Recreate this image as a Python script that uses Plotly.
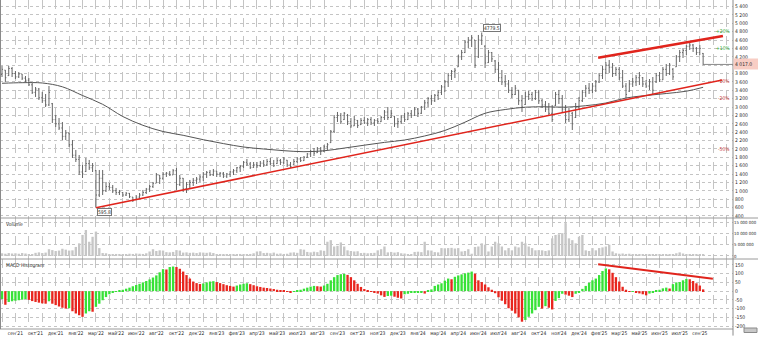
import plotly.graph_objects as go
from plotly.subplots import make_subplots

# ---------------- data ----------------
bar_index = list(range(210))

open_p = [3780, 3880, 3750, 3920, 3800, 3720, 3790, 3690, 3640, 3530,
          3350, 3430, 3220, 3150, 3050, 3080, 2700, 2600, 2500, 2300,
          2380, 2100, 1850, 1750, 1450, 1460, 1650, 1550, 1480, 900,
          1300, 1000, 1100, 1080, 1000, 960, 960, 900, 940, 850,
          790, 850, 900, 960, 1040, 1100, 1180, 1370, 1300, 1400,
          1420, 1380, 1480, 1150, 1300, 1050, 1150, 1200, 1250, 1280,
          1330, 1400, 1440, 1380, 1470, 1400, 1420, 1350, 1400, 1450,
          1480, 1550, 1580, 1680, 1640, 1560, 1620, 1600, 1660, 1620,
          1700, 1650, 1650, 1720, 1680, 1730, 1620, 1620, 1700, 1760,
          1720, 1800, 1880, 1940, 1910, 2000, 1950, 2050, 2150, 2420,
          2750, 2800, 2700, 2800, 2650, 2550, 2680, 2580, 2680, 2620,
          2700, 2620, 2680, 2650, 2750, 2880, 2750, 2780, 2600, 2650,
          2760, 2700, 2840, 2800, 2950, 2850, 3000, 3100, 3200, 3150,
          3280, 3350, 3480, 3600, 3750, 3850, 3960, 4200, 4300, 4550,
          4600, 4600, 4200, 4600, 4450, 4060, 4300, 4100, 3900, 3700,
          3600, 3550, 3400, 3300, 3400, 3150, 3060, 3250, 3300, 3200,
          3350, 3150, 3050, 2950, 2850, 3040, 3300, 3200, 2950, 2700,
          2850, 2750, 3000, 3150, 3350, 3450, 3400, 3500, 3600, 3750,
          3900, 4000, 3950, 3800, 3900, 3700, 3500, 3380, 3550, 3600,
          3700, 3700, 3550, 3500, 3600, 3600, 3750, 3650, 3900, 3800,
          3900, 3960, 4200, 4300, 4350, 4450, 4480, 4400, 4300, 4280]

high_p = [3980, 3884, 3980, 3956, 3860, 3836, 3789, 3741, 3693, 3574,
          3478, 3455, 3359, 3311, 3502, 3097, 2810, 2738, 2643, 2452,
          2380, 2213, 1975, 1855, 1617, 1784, 1736, 1664, 1497, 1497,
          1497, 1211, 1187, 1139, 1068, 1020, 972, 972, 948, 853,
          900, 948, 1020, 1068, 1139, 1211, 1426, 1378, 1449, 1449,
          1473, 1521, 1545, 1378, 1306, 1211, 1259, 1306, 1330, 1378,
          1449, 1473, 1497, 1521, 1473, 1449, 1449, 1426, 1473, 1521,
          1569, 1617, 1712, 1760, 1688, 1688, 1688, 1712, 1736, 1760,
          1784, 1736, 1784, 1760, 1807, 1736, 1688, 1760, 1807, 1807,
          1831, 1903, 1975, 2022, 2046, 2046, 2094, 2142, 2452, 2810,
          2882, 2858, 2882, 2834, 2738, 2786, 2691, 2738, 2762, 2738,
          2762, 2715, 2738, 2786, 2929, 3001, 2929, 2786, 2738, 2810,
          2858, 2882, 2929, 3001, 2977, 3025, 3168, 3240, 3287, 3311,
          3407, 3526, 3645, 3813, 3884, 3932, 4242, 4362, 4600, 4672,
          4720, 4600, 4720, 4779.5, 4481, 4362, 4314, 4123, 4075, 3884,
          3765, 3645, 3478, 3526, 3407, 3287, 3359, 3383, 3359, 3407,
          3407, 3192, 3144, 3097, 3049, 3359, 3407, 3287, 3049, 2977,
          2882, 3097, 3240, 3407, 3526, 3574, 3574, 3645, 3813, 3980,
          4075, 4123, 4051, 3956, 3956, 3884, 3574, 3645, 3693, 3765,
          3836, 3717, 3645, 3669, 3717, 3813, 3836, 3956, 4027, 4051,
          3932, 4242, 4362, 4409, 4481, 4552, 4505, 4433, 4481, 4290]

low_p = [3717, 3598, 3740, 3717, 3669, 3693, 3645, 3598, 3502, 3311,
         3240, 3168, 3097, 3001, 3025, 2619, 2524, 2452, 2213, 2213,
         2046, 1784, 1688, 1378, 1306, 1449, 1497, 1449, 595.8, 853,
         900, 972, 1020, 948, 900, 900, 853, 877, 829, 733,
         781, 805, 877, 924, 972, 1068, 1187, 1163, 1259, 1330,
         1354, 1378, 1020, 1115, 972, 948, 1068, 1115, 1163, 1211,
         1235, 1306, 1354, 1354, 1330, 1330, 1306, 1306, 1330, 1378,
         1426, 1449, 1545, 1593, 1521, 1545, 1545, 1569, 1569, 1593,
         1617, 1569, 1640, 1617, 1640, 1569, 1545, 1617, 1664, 1688,
         1712, 1784, 1807, 1831, 1903, 1855, 1927, 1975, 2142, 2380,
         2643, 2595, 2691, 2571, 2500, 2547, 2500, 2571, 2595, 2547,
         2571, 2547, 2595, 2643, 2691, 2691, 2738, 2524, 2500, 2595,
         2643, 2691, 2738, 2786, 2762, 2834, 2929, 3001, 3049, 3120,
         3168, 3287, 3359, 3478, 3645, 3693, 3956, 4123, 4290, 4409,
         4433, 3932, 4171, 4481, 3932, 4051, 4075, 3813, 3598, 3526,
         3478, 3335, 3216, 3287, 3049, 2882, 3049, 3168, 3144, 3168,
         3073, 2977, 2882, 2786, 2643, 3025, 3073, 2858, 2619, 2643,
         2452, 2738, 2929, 3120, 3240, 3311, 3335, 3359, 3574, 3669,
         3789, 3813, 3717, 3741, 3645, 3455, 3216, 3359, 3478, 3502,
         3526, 3478, 3455, 3407, 3311, 3574, 3598, 3645, 3741, 3765,
         3645, 3956, 4075, 4171, 4242, 4362, 4314, 4242, 4242, 4003]

close_p = [3900, 3700, 3920, 3800, 3720, 3790, 3690, 3640, 3530, 3350,
           3430, 3220, 3150, 3050, 3350, 2700, 2600, 2500, 2300, 2380,
           2100, 1850, 1750, 1450, 1400, 1650, 1550, 1600, 900, 1300,
           1000, 1100, 1080, 1000, 960, 980, 900, 940, 860, 780,
           850, 900, 960, 1040, 1100, 1180, 1380, 1300, 1400, 1420,
           1380, 1480, 1150, 1300, 1050, 1150, 1200, 1250, 1280, 1330,
           1400, 1440, 1380, 1470, 1400, 1420, 1350, 1400, 1450, 1480,
           1550, 1580, 1680, 1640, 1560, 1620, 1600, 1660, 1620, 1700,
           1650, 1600, 1720, 1680, 1760, 1620, 1580, 1700, 1760, 1720,
           1800, 1880, 1940, 1900, 2000, 1950, 2050, 2100, 2420, 2750,
           2800, 2650, 2850, 2650, 2550, 2700, 2560, 2680, 2620, 2700,
           2620, 2680, 2650, 2750, 2880, 2750, 2850, 2600, 2650, 2760,
           2700, 2840, 2800, 2950, 2850, 3000, 3100, 3200, 3150, 3280,
           3350, 3480, 3600, 3750, 3850, 3880, 4200, 4300, 4550, 4600,
           4650, 4000, 4600, 4700, 4050, 4300, 4150, 3900, 3700, 3600,
           3550, 3400, 3300, 3450, 3150, 3000, 3250, 3300, 3200, 3350,
           3150, 3050, 2950, 2850, 2700, 3300, 3200, 2950, 2700, 2900,
           2600, 3000, 3150, 3350, 3450, 3400, 3500, 3600, 3750, 3900,
           4000, 3950, 3800, 3900, 3700, 3500, 3300, 3550, 3600, 3700,
           3750, 3550, 3500, 3600, 3400, 3750, 3650, 3900, 3800, 4000,
           3720, 4200, 4300, 4350, 4450, 4480, 4400, 4300, 4400, 4017]

volume_mln = [1.2, 1.0, 1.3, 1.1, 1.2, 1.0, 1.3, 1.1, 0.5, 0.6,
              1.4, 1.6, 1.3, 1.5, 3.0, 2.6, 2.2, 2.4, 3.2, 2.8,
              2.4, 2.5, 4.0, 5.6, 9.3, 11.5, 6.3, 8.5, 10.8, 3.5,
              1.3, 1.2, 0.8, 0.7, 0.9, 0.5, 0.6, 0.5, 1.0, 0.9,
              1.1, 1.0, 0.9, 1.2, 2.0, 3.0, 2.2, 2.5, 2.4, 1.7,
              1.6, 1.8, 2.6, 2.4, 1.5, 1.6, 1.4, 1.5, 1.3, 1.6,
              1.5, 1.4, 1.6, 1.3, 0.6, 0.7, 0.5, 0.6, 0.7, 0.6,
              0.8, 0.9, 0.7, 0.8, 0.9, 1.2, 2.0, 2.1, 1.3, 1.4,
              1.2, 1.5, 1.0, 1.1, 0.9, 1.0, 1.5, 1.6, 1.4, 3.0,
              2.8, 1.8, 1.6, 1.9, 1.7, 2.5, 2.3, 6.3, 7.0, 4.2,
              4.5, 6.0, 4.2, 2.5, 2.2, 2.0, 2.1, 1.3, 1.4, 1.2,
              1.3, 1.4, 2.5, 3.0, 4.2, 1.6, 1.8, 1.5, 1.7, 1.2,
              1.1, 0.7, 0.7, 1.8, 1.9, 1.7, 6.3, 2.5, 2.4, 1.7,
              1.6, 3.5, 3.4, 3.5, 3.6, 3.3, 3.5, 2.0, 2.2, 3.0,
              1.0, 4.0, 4.2, 5.6, 5.0, 2.0, 4.2, 6.3, 5.6, 4.2,
              2.5, 3.5, 2.5, 4.2, 3.8, 6.3, 5.6, 4.2, 3.5, 2.5,
              2.6, 2.5, 2.2, 2.5, 7.8, 9.3, 9.6, 10.1, 14.5, 7.8,
              7.0, 5.6, 8.5, 9.3, 2.5, 2.2, 3.5, 2.5, 3.5, 3.8,
              4.2, 5.0, 2.0, 1.2, 1.0, 1.1, 0.9, 1.0, 0.7, 0.8,
              0.6, 0.7, 0.8, 0.6, 0.7, 0.6, 0.6, 0.7, 0.6, 0.7,
              0.8, 1.2, 1.6, 1.1, 0.7, 0.6, 0.6, 0.7, 0.6, 0.6]

macd_hist = [-45, -78, -62, -58, -55, -52, -49, -45, -50, -57,
             -62, -66, -70, -72, -58, -72, -80, -88, -95, -100,
             -98, -115, -128, -138, -147, -128, -115, -118, -90, -72,
             -52, -34, -18, -6, -1, 3, 8, 14, 20, 28,
             35, 42, 50, 58, 67, 78, 90, 108, 126, 124,
             138, 141, 138, 128, 112, 92, 72, 55, 46, 41,
             44, 50, 55, 57, 52, 46, 40, 34, 30, 26,
             32, 38, 42, 45, 40, 34, 28, 24, 20, 18,
             15, 12, 8, 5, 1, -3, -6, -2, 1, 8,
             14, 20, 26, 30, 28, 26, 32, 42, 62, 80,
             92, 97, 99, 93, 80, 62, 42, 24, 12, 4,
             -2, -8, -14, -24, -33, -28, -26, -32, -38, -42,
             -18, -15, -10, -8, -6, -5, -14, 6, 10, 30,
             38, 45, 60, 72, 68, 82, 90, 96, 102, 106,
             112, 100, 62, 52, 38, 22, 8, -12, -35, -55,
             -75, -98, -112, -128, -150, -175, -165, -147, -128, -109,
             -90, -100, -86, -95, -105, -56, -40, -15, -20, -26,
             -34, -15, -6, 13, 30, 48, 62, 72, 92, 115,
             130, 125, 105, 80, 55, 25, 8, -4, -2, -9,
             -13, -18, -24, -14, -6, 4, 8, 16, 20, 15,
             40, 50, 52, 62, 70, 68, 58, 45, 32, 10]

ma_index = [0, 6, 12, 18, 24, 30, 36, 42, 48, 54, 60, 66, 72, 78, 84, 90, 96, 102,
            108, 114, 120, 126, 132, 138, 144, 150, 156, 162, 168, 174, 180, 186,
            192, 198, 204, 209]
ma_value = [3567, 3581, 3574, 3483, 3275, 3065, 2774, 2564, 2416, 2325, 2220, 2127,
            2046, 1998, 1958, 1934, 1955, 2020, 2089, 2156, 2213, 2309, 2440, 2638,
            2851, 2941, 2996, 3006, 2996, 3032, 3096, 3216, 3275, 3323, 3378, 3471]

tick_labels = ["сен'21", "окт'21", "дек'21", "янв'22", "мар'22", "май'22", "июн'22",
               "авг'22", "окт'22", "дек'22", "янв'23", "фев'23", "апр'23", "май'23",
               "июл'23", "авг'23", "сен'23", "окт'23", "ноя'23", "дек'23", "янв'24",
               "мар'24", "апр'24", "июн'24", "июл'24", "авг'24", "окт'24", "ноя'24",
               "дек'24", "фев'25", "мар'25", "май'25", "июн'25", "июл'25", "сен'25"]
tick_index = list(range(4, 210, 6))

peak_idx, peak_val = 143, 4779.5
low_idx, low_val = 28, 595.8
support_idx = [28, 214.7]
support_val = [595.8, 3645]
resist_idx = [177.7, 214.9]
resist_val = [4178, 4696]
macd_line_idx = [177.7, 211.9]
macd_line_val = [154, 70.6]
pct_levels = [20, 10, -10, -20, -50]

price_ticks = list(range(400, 5401, 200))
price_tick_text = ["400", "600", "800", "1 000", "1 200", "1 400", "1 600", "1 800",
                   "2 000", "2 200", "2 400", "2 600", "2 800", "3 000", "3 200",
                   "3 400", "3 600", "3 800", "", "4 200", "4 400", "4 600", "4 800",
                   "5 000", "5 200", "5 400"]
volume_ticks = [0, 5000000, 10000000, 15000000]
volume_tick_text = ["0", "5 000 000", "10 000 000", "15 000 000"]
macd_ticks = [-200, -150, -100, -50, 0, 50, 100, 150]

# ---------------- figure ----------------
W, H = 758, 337
ML, MR, MT, MB = 0, 25, 0, 8
PW, PH = W - ML - MR, H - MT - MB

def py(pix):  # pixel row -> paper y
    return (PH - pix) / PH

FONT = "Liberation Sans Narrow, Arial Narrow, DejaVu Sans Condensed, Roboto Condensed, Arial, sans-serif"
TXT = "#2a2a2a"
GRID = "#c4c4c4"

fig = make_subplots(rows=3, cols=1, shared_xaxes=True, vertical_spacing=0)

fig.add_trace(go.Ohlc(x=bar_index, open=open_p, high=high_p, low=low_p, close=close_p,
                      increasing=dict(line=dict(color="#666666", width=1)),
                      decreasing=dict(line=dict(color="#666666", width=1)),
                      tickwidth=0.3, hoverinfo="skip", showlegend=False), row=1, col=1)

fig.add_trace(go.Scatter(x=ma_index, y=ma_value, mode="lines", line_shape="spline",
                         line=dict(color="#555555", width=1), hoverinfo="skip",
                         showlegend=False), row=1, col=1)

fig.add_trace(go.Scatter(x=support_idx, y=support_val, mode="lines",
                         line=dict(color="#e0241c", width=1.6), hoverinfo="skip",
                         showlegend=False), row=1, col=1)
fig.add_trace(go.Scatter(x=resist_idx, y=resist_val, mode="lines",
                         line=dict(color="#e0241c", width=2.6), hoverinfo="skip",
                         showlegend=False), row=1, col=1)

fig.add_trace(go.Bar(x=bar_index, y=[v * 1e6 for v in volume_mln],
                     marker=dict(color="#c6c6c6", line=dict(width=0)),
                     hoverinfo="skip", showlegend=False), row=2, col=1)

macd_colors = []
prev = None
for v in macd_hist:
    macd_colors.append("#37e237" if (prev is None or v >= prev) else "#e8261e")
    prev = v
fig.add_trace(go.Bar(x=bar_index, y=macd_hist,
                     marker=dict(color=macd_colors, line=dict(width=0)),
                     hoverinfo="skip", showlegend=False), row=3, col=1)
fig.add_trace(go.Scatter(x=macd_line_idx, y=macd_line_val, mode="lines",
                         line=dict(color="#e0241c", width=2), hoverinfo="skip",
                         showlegend=False), row=3, col=1)

xcommon = dict(range=[-0.6, 217.9], showgrid=False, zeroline=False, ticks="",
               showline=False,
               minor=dict(tick0=0, dtick=4, showgrid=True, gridcolor=GRID,
                          griddash="dash", gridwidth=1, ticks=""))
fig.update_xaxes(**xcommon)
fig.update_xaxes(showticklabels=False, rangeslider=dict(visible=False), row=1, col=1)
fig.update_xaxes(showticklabels=False, row=2, col=1)
fig.update_xaxes(tickmode="array", tickvals=tick_index, ticktext=tick_labels,
                 showticklabels=True, ticklabelstandoff=0,
                 tickfont=dict(family=FONT, size=5, color=TXT),
                 row=3, col=1)

ycommon = dict(side="right", zeroline=False, showline=False, ticks="",
               showgrid=True, gridcolor=GRID, griddash="dot", gridwidth=1,
               ticklabelstandoff=1,
               tickfont=dict(family=FONT, size=5, color=TXT), tickmode="array")
fig.update_yaxes(**ycommon)
fig.update_yaxes(domain=[py(218), 1.0], range=[351, 5555], tickvals=price_ticks,
                 ticktext=price_tick_text, row=1, col=1)
fig.update_yaxes(domain=[py(259), py(218)], range=[-1.33e6, 16.8e6],
                 tickvals=volume_ticks, ticktext=volume_tick_text,
                 ticklabelstandoff=0,
                 tickfont=dict(family=FONT, size=4.3, color=TXT), row=2, col=1)
fig.update_yaxes(domain=[0, py(259)], range=[-216.8, 184], tickvals=macd_ticks,
                 ticktext=[str(v) for v in macd_ticks], row=3, col=1)

last_close = close_p[-1]
ann = []
ann.append(dict(x=peak_idx, y=peak_val, xref="x", yref="y", text="4779.5",
                showarrow=False, xanchor="left", yanchor="bottom", xshift=1,
                font=dict(family=FONT, size=5, color=TXT), bgcolor="white",
                bordercolor="#777", borderwidth=1, borderpad=0))
ann.append(dict(x=low_idx, y=low_val, xref="x", yref="y", text="595.8",
                showarrow=False, xanchor="left", yanchor="top", xshift=1,
                font=dict(family=FONT, size=5, color=TXT), bgcolor="white",
                bordercolor="#777", borderwidth=1, borderpad=0))
for p in pct_levels:
    ann.append(dict(x=0.999, y=last_close * (1 + p / 100), xref="paper", yref="y",
                    text=("+%d%%" % p) if p > 0 else ("%d%%" % p), showarrow=False,
                    xanchor="right", yanchor="middle",
                    font=dict(family=FONT, size=5, color="#2fa52f" if p > 0 else "#c83a3a")))
ann.append(dict(x=1.0, y=last_close, xref="paper", yref="y",
                text="4 017.0", showarrow=False, xanchor="left", yanchor="middle",
                align="left", width=25, height=8, bgcolor="#f8cdc4",
                font=dict(family=FONT, size=5, color=TXT)))
ann.append(dict(x=0.006, y=py(219), xref="paper", yref="paper", text="Volume",
                showarrow=False, xanchor="left", yanchor="top",
                font=dict(family=FONT, size=5, color=TXT)))
ann.append(dict(x=0.006, y=py(260), xref="paper", yref="paper", text="MACD Histogram",
                showarrow=False, xanchor="left", yanchor="top",
                font=dict(family=FONT, size=5, color=TXT)))

xr = W / PW
shapes = [
    dict(type="line", xref="x", yref="y", x0=bar_index[-1], x1=217.9,
         y0=last_close, y1=last_close, line=dict(color="#8a8a8a", width=1)),
    dict(type="line", xref="paper", yref="paper", x0=0, x1=xr, y0=py(218), y1=py(218),
         line=dict(color="#9a9a9a", width=1)),
    dict(type="line", xref="paper", yref="paper", x0=0, x1=xr, y0=py(259), y1=py(259),
         line=dict(color="#9a9a9a", width=1)),
    dict(type="line", xref="paper", yref="paper", x0=0, x1=1, y0=0, y1=0,
         line=dict(color="#9a9a9a", width=1)),
    dict(type="line", xref="paper", yref="paper", x0=1, x1=1, y0=-0.02, y1=1,
         line=dict(color="#8a8a8a", width=1)),
    dict(type="line", xref="paper", yref="paper", x0=0.0007, x1=0.0007, y0=0, y1=1,
         line=dict(color="#8a8a8a", width=1)),
    dict(type="rect", xref="paper", yref="paper", x0=744 / PW, x1=757 / PW,
         y0=py(332.5), y1=py(328), fillcolor="#c8c8c8",
         line=dict(color="#8a8a8a", width=1)),
]

fig.update_layout(width=W, height=H, margin=dict(l=ML, r=MR, t=MT, b=MB, autoexpand=False),
                  paper_bgcolor="white", plot_bgcolor="white", bargap=0.3,
                  showlegend=False, annotations=ann, shapes=shapes,
                  hovermode=False)

fig.write_html("out.html")
